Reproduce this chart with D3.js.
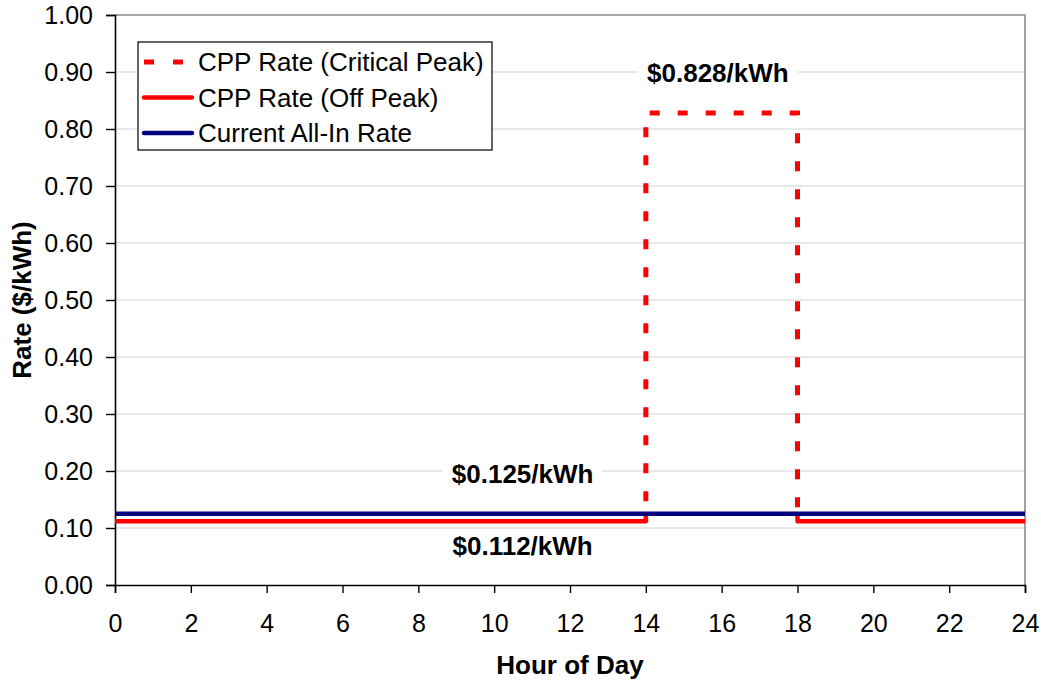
<!DOCTYPE html>
<html>
<head>
<meta charset="utf-8">
<script src="https://cdn.jsdelivr.net/npm/d3@7"></script>
<style>
  html, body { margin: 0; padding: 0; background: #fff; }
  svg { display: block; font-family: "Liberation Sans", Arial, sans-serif; }
</style>
</head>
<body>
<svg id="chart" width="1041" height="681"></svg>
<script>
// Hourly rate profiles ($/kWh) for a critical-peak-pricing day
const hourTicks = [0, 2, 4, 6, 8, 10, 12, 14, 16, 18, 20, 22, 24];
const rateTicks = [0, 0.1, 0.2, 0.3, 0.4, 0.5, 0.6, 0.7, 0.8, 0.9, 1.0];

const criticalPeakRate = 0.828;
const offPeakRate = 0.112;
const currentRate = 0.125;

// Critical peak window, hours 14 to 18
const criticalPeakHours = [14, 14, 18, 18];
const criticalPeakValues = [offPeakRate, criticalPeakRate, criticalPeakRate, offPeakRate];

// Off-peak segments (before and after the event)
const offPeakMorningHours = [0, 14, 14];
const offPeakMorningValues = [offPeakRate, offPeakRate, currentRate];
const offPeakEveningHours = [18, 18, 24];
const offPeakEveningValues = [currentRate, offPeakRate, offPeakRate];

// Flat all-in rate across the day
const currentHours = [0, 24];
const currentValues = [currentRate, currentRate];

const seriesNames = ["CPP Rate (Critical Peak)", "CPP Rate (Off Peak)", "Current All-In Rate"];

const svg = d3.select("#chart");
const margin = { left: 115, right: 16, top: 15, bottom: 96 };
const W = 1041, H = 681;

const x = d3.scaleLinear().domain([0, 24]).range([margin.left, W - margin.right]);
const y = d3.scaleLinear().domain([0, 1]).range([H - margin.bottom, margin.top]);

const TICK_FONT = 25;
const FONT = 26;

// gridlines
svg.append("g")
  .selectAll("line")
  .data(rateTicks.filter(d => d > 0 && d < 1))
  .join("line")
  .attr("x1", x(0)).attr("x2", x(24))
  .attr("y1", d => y(d)).attr("y2", d => y(d))
  .attr("stroke", "#d4d4d4").attr("stroke-width", 1.2);

// plot frame: top and right
svg.append("path")
  .attr("d", `M${x(0)},${y(1)}H${x(24)}V${y(0)}`)
  .attr("fill", "none").attr("stroke", "#8c8c8c").attr("stroke-width", 1.6);

// axes
const xAxis = d3.axisBottom(x).tickValues(hourTicks).tickFormat(d3.format("d")).tickSize(8).tickPadding(21);
const yAxis = d3.axisLeft(y).tickValues(rateTicks).tickFormat(d3.format(".2f")).tickSize(9).tickPadding(13);

const gx = svg.append("g").attr("transform", `translate(0,${y(0)})`).call(xAxis);
const gy = svg.append("g").attr("transform", `translate(${x(0)},0)`).call(yAxis);
[gx, gy].forEach(g => {
  g.select(".domain").attr("stroke", "#000").attr("stroke-width", 1.6);
  g.selectAll(".tick line").attr("stroke", "#000").attr("stroke-width", 1.4);
  g.selectAll(".tick text").attr("fill", "#000").style("font-size", TICK_FONT + "px")
    .style("font-family", '"Liberation Sans", Arial, sans-serif');
});
gx.selectAll(".tick text").attr("dy", "0.71em");

// axis titles
svg.append("text")
  .attr("x", (x(0) + x(24)) / 2).attr("y", 674)
  .attr("text-anchor", "middle")
  .style("font-size", FONT + "px").style("font-weight", "bold")
  .text("Hour of Day");

svg.append("text")
  .attr("transform", `translate(31,${(y(0) + y(1)) / 2}) rotate(-90)`)
  .attr("text-anchor", "middle")
  .style("font-size", FONT + "px").style("font-weight", "bold")
  .text("Rate ($/kWh)");

const line = d3.line().x(d => x(d[0])).y(d => y(d[1]));
const zip = (a, b) => a.map((v, i) => [v, b[i]]);

// critical peak (dashed)
svg.append("path")
  .attr("d", line(zip(criticalPeakHours, criticalPeakValues)))
  .attr("fill", "none").attr("stroke", "#ff0000").attr("stroke-width", 5)
  .attr("stroke-dasharray", "10,18").attr("stroke-dashoffset", 8);

// off peak (solid red)
[[offPeakMorningHours, offPeakMorningValues], [offPeakEveningHours, offPeakEveningValues]].forEach(([h, v]) => {
  svg.append("path")
    .attr("d", line(zip(h, v)))
    .attr("fill", "none").attr("stroke", "#ff0000").attr("stroke-width", 4.5)
    .attr("stroke-linejoin", "round");
});

// current all-in rate (navy)
svg.append("path")
  .attr("d", line(zip(currentHours, currentValues)))
  .attr("fill", "none").attr("stroke", "#000080").attr("stroke-width", 4.5);

// value labels on white backgrounds
const labels = [
  { hour: 15.9, value: criticalPeakRate, dy: -31, text: `$${criticalPeakRate.toFixed(3)}/kWh` },
  { hour: 10.75, value: currentRate, dy: -31, text: `$${currentRate.toFixed(3)}/kWh` },
  { hour: 10.75, value: offPeakRate, dy: 34, text: `$${offPeakRate.toFixed(3)}/kWh` }
];
labels.forEach(l => {
  const g = svg.append("g");
  const cx = x(l.hour), by = y(l.value) + l.dy;
  const rect = g.append("rect").attr("fill", "#fff");
  const t = g.append("text")
    .attr("x", cx).attr("y", by)
    .attr("text-anchor", "middle")
    .style("font-size", FONT + "px").style("font-weight", "bold")
    .text(l.text);
  const bb = t.node().getBBox();
  rect.attr("x", bb.x - 9).attr("y", bb.y - 2).attr("width", bb.width + 18).attr("height", bb.height + 4);
});

// legend
const legend = svg.append("g");
legend.append("rect")
  .attr("x", 138).attr("y", 42).attr("width", 354).attr("height", 108)
  .attr("fill", "#fff").attr("stroke", "#000").attr("stroke-width", 1.2);
const legendStyles = [
  { color: "#ff0000", dash: "10,19", width: 5 },
  { color: "#ff0000", dash: null, width: 4.5 },
  { color: "#000080", dash: null, width: 4.5 }
];
seriesNames.forEach((name, i) => {
  const cy = 62 + i * 35.5;
  legend.append("line")
    .attr("x1", 144).attr("x2", 192).attr("y1", cy).attr("y2", cy)
    .attr("stroke", legendStyles[i].color).attr("stroke-width", legendStyles[i].width)
    .attr("stroke-dasharray", legendStyles[i].dash)
    .attr("stroke-linecap", legendStyles[i].dash ? "butt" : "round");
  legend.append("text")
    .attr("x", 198).attr("y", cy).attr("dy", "0.36em")
    .style("font-size", FONT + "px")
    .text(name);
});
</script>
</body>
</html>
